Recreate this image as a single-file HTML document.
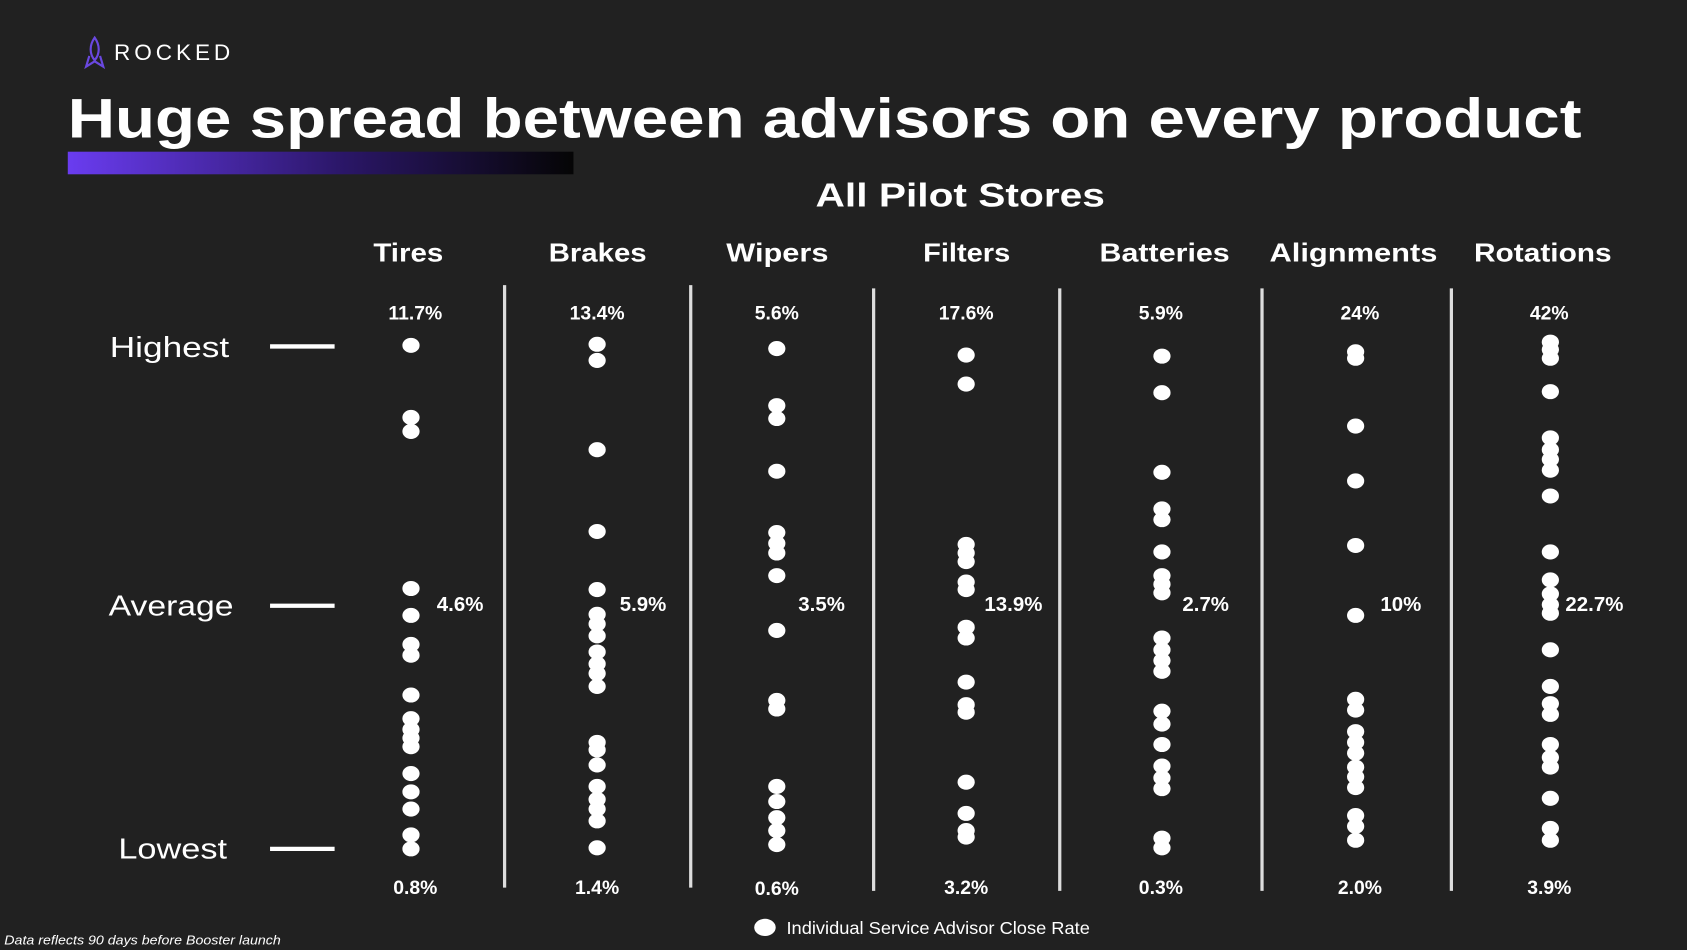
<!DOCTYPE html>
<html><head><style>
html,body{margin:0;padding:0;background:#212121;}
svg{display:block;}
text{font-family:"Liberation Sans",sans-serif;fill:#fff;}
</style></head><body>
<svg width="1687" height="950" viewBox="0 0 1568 883" preserveAspectRatio="none">
<defs>
<linearGradient id="g" x1="0" x2="1"><stop offset="0" stop-color="#6a3cf0"/><stop offset="0.55" stop-color="#2a1666"/><stop offset="1" stop-color="#050505"/></linearGradient>
</defs>
<rect width="1568" height="883" fill="#212121"/>
<g fill="none" stroke="#6a48e0" stroke-width="2">
<path d="M88 35 C83 42 83 50 88 56 C93 50 93 42 88 35Z"/>
<path d="M83 52 L80 62 L88 57 L96 62 L93 52"/>
</g>
<text x="106" y="56" font-size="21" letter-spacing="2" fill="#ddd" textLength="110">ROCKED</text>
<text x="63" y="128" font-size="52" font-weight="bold" textLength="1407" lengthAdjust="spacingAndGlyphs">Huge spread between advisors on every product</text>
<rect x="63" y="141" width="470" height="21" fill="url(#g)"/>
<text x="758" y="192" font-size="31" font-weight="bold" textLength="269" lengthAdjust="spacingAndGlyphs">All Pilot Stores</text>
<g font-size="24" font-weight="bold">
<text x="347" y="243" textLength="65" lengthAdjust="spacingAndGlyphs">Tires</text>
<text x="510" y="243" textLength="91" lengthAdjust="spacingAndGlyphs">Brakes</text>
<text x="675" y="243" textLength="95" lengthAdjust="spacingAndGlyphs">Wipers</text>
<text x="858" y="243" textLength="81" lengthAdjust="spacingAndGlyphs">Filters</text>
<text x="1022" y="243" textLength="121" lengthAdjust="spacingAndGlyphs">Batteries</text>
<text x="1180" y="243" textLength="156" lengthAdjust="spacingAndGlyphs">Alignments</text>
<text x="1370" y="243" textLength="128" lengthAdjust="spacingAndGlyphs">Rotations</text>
</g>
<g font-size="27" fill="#eee">
<text x="102" y="332" textLength="111" lengthAdjust="spacingAndGlyphs">Highest</text>
<text x="101" y="572" textLength="116" lengthAdjust="spacingAndGlyphs">Average</text>
<text x="110" y="798" textLength="101" lengthAdjust="spacingAndGlyphs">Lowest</text>
</g>
<g stroke="#fff" stroke-width="4"><line x1="251" y1="322" x2="311" y2="322"/><line x1="251" y1="563" x2="311" y2="563"/><line x1="251" y1="789" x2="311" y2="789"/></g>
<g stroke="#ddd" stroke-width="3">
<line x1="469" y1="265" x2="469" y2="825"/><line x1="642" y1="265" x2="642" y2="825"/><line x1="812" y1="268" x2="812" y2="828"/><line x1="985" y1="268" x2="985" y2="828"/><line x1="1173" y1="268" x2="1173" y2="828"/><line x1="1349" y1="268" x2="1349" y2="828"/>
</g>
<g font-size="18" font-weight="bold" text-anchor="middle">
<text x="386" y="297">11.7%</text><text x="555" y="297">13.4%</text><text x="722" y="297">5.6%</text><text x="898" y="297">17.6%</text><text x="1079" y="297">5.9%</text><text x="1264" y="297">24%</text><text x="1440" y="297">42%</text>
<text x="386" y="831">0.8%</text><text x="555" y="831">1.4%</text><text x="722" y="832">0.6%</text><text x="898" y="831">3.2%</text><text x="1079" y="831">0.3%</text><text x="1264" y="831">2.0%</text><text x="1440" y="831">3.9%</text>
</g>
<g font-size="19" font-weight="bold">
<text x="406" y="568">4.6%</text><text x="576" y="568">5.9%</text><text x="742" y="568">3.5%</text><text x="915" y="568">13.9%</text><text x="1099" y="568">2.7%</text><text x="1283" y="568">10%</text><text x="1455" y="568">22.7%</text>
</g>
<g id="dots" fill="#fff"></g>
<ellipse cx="711" cy="862" rx="10" ry="8" fill="#fff"/>
<text x="731" y="868" font-size="16" fill="#ddd" textLength="282" lengthAdjust="spacingAndGlyphs">Individual Service Advisor Close Rate</text>
<text x="4" y="878" font-size="12" font-style="italic" fill="#ddd" textLength="257" lengthAdjust="spacingAndGlyphs">Data reflects 90 days before Booster launch</text>
</svg>
<script>
var d={382:[321,388,401,547,572,599,609,646,668,678,686,694,719,736,752,776,789],
555:[320,335,418,494,548,571,580,591,606,617,626,638,690,697,711,731,743,752,763,788],
722:[324,377,389,438,495,505,514,535,586,651,659,731,745,760,772,785],
898:[330,357,506,514,522,541,548,583,593,634,655,662,727,756,772,778],
1080:[331,365,439,473,483,513,535,543,551,593,604,614,624,661,673,692,712,723,733,779,788],
1260:[327,333,396,447,507,572,650,660,680,690,700,713,722,732,758,768,781],
1441:[318,325,333,364,407,418,427,437,461,513,539,552,562,570,604,638,654,664,692,704,713,742,770,781]};
var g=document.getElementById('dots'),s='';
for(var x in d)d[x].forEach(function(y){s+='<ellipse cx="'+x+'" cy="'+y+'" rx="8" ry="7"/>';});
g.innerHTML=s;
</script>
</body></html>
